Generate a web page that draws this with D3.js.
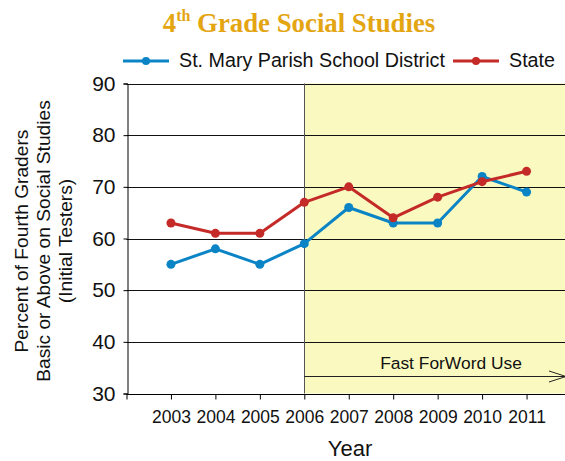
<!DOCTYPE html>
<html><head><meta charset="utf-8">
<script src="https://cdn.jsdelivr.net/npm/d3@7/dist/d3.min.js"></script>
<style>body{margin:0;background:#fff}svg{display:block}</style>
</head><body>
<svg id="c" width="565" height="461"></svg>
<script>
const years = [2003, 2004, 2005, 2006, 2007, 2008, 2009, 2010, 2011];
const district = [55, 58, 55, 59, 66, 63, 63, 72, 69];
const state = [63, 61, 61, 67, 70, 64, 68, 71, 73];
const yTicks = [30, 40, 50, 60, 70, 80, 90];
const seriesNames = ["St. Mary Parish School District", "State"];
const fwStart = 2006;
const fwLabel = "Fast ForWord Use";

const W = 565, H = 461;
const svg = d3.select("#c");
const font = "'Liberation Sans', Arial, sans-serif";
const blue = "#0B84C6", red = "#C42A27";

const x = d3.scaleLinear().domain([2002, 2012]).range([126.5, 571]);
const y = d3.scaleLinear().domain([30, 90]).range([393.5, 83.5]);
const left = x(2002), right = W;

// shaded region
svg.append("rect").attr("x", x(fwStart)).attr("y", y(90))
  .attr("width", right - x(fwStart)).attr("height", y(30) - y(90))
  .attr("fill", "#FAFAC0");

// gridlines
svg.append("g").selectAll("line").data(yTicks.filter(d => d > 30)).join("line")
  .attr("x1", left).attr("x2", right)
  .attr("y1", d => Math.round(y(d)) + 0.5).attr("y2", d => Math.round(y(d)) + 0.5)
  .attr("stroke", "#111").attr("stroke-width", 1);

// vertical line at start of shading
svg.append("line").attr("x1", Math.round(x(fwStart)) + 0.5).attr("x2", Math.round(x(fwStart)) + 0.5)
  .attr("y1", y(90)).attr("y2", y(30)).attr("stroke", "#555").attr("stroke-width", 1);

// y axis
const yAxis = d3.axisLeft(y).tickValues(yTicks).tickSize(4).tickPadding(8).tickFormat(d3.format("d"));
const gy = svg.append("g").attr("transform", `translate(${Math.round(left) + 0.5},0)`).call(yAxis);
gy.select(".domain").attr("stroke", "#000");
gy.selectAll(".tick line").attr("stroke", "#000");
gy.selectAll(".tick text").attr("font-family", font).attr("font-size", 21).attr("fill", "#111");

// x axis
const xAxis = d3.axisBottom(x).tickValues([2002].concat(years)).tickSize(5).tickPadding(11)
  .tickFormat(d => d === 2002 ? "" : String(d));
const gx = svg.append("g").attr("transform", `translate(0,${Math.round(y(30)) + 0.5})`).call(xAxis);
gx.select(".domain").attr("stroke", "#000").attr("d", `M${left},0H${right + 10}`);
gx.selectAll(".tick line").attr("stroke", "#000");
gx.selectAll(".tick text").attr("font-family", font).attr("font-size", 17.5).attr("fill", "#111");

// arrow
const ay = 376.5;
svg.append("line").attr("x1", x(fwStart)).attr("x2", right + 2).attr("y1", ay).attr("y2", ay)
  .attr("stroke", "#222").attr("stroke-width", 1);
svg.append("path").attr("d", `M549,${ay - 5.5}L566,${ay}L549,${ay + 5.5}`)
  .attr("fill", "none").attr("stroke", "#222").attr("stroke-width", 1);
svg.append("text").attr("x", 451).attr("y", 369).attr("text-anchor", "middle")
  .attr("font-family", font).attr("font-size", 17.4).attr("fill", "#111").text(fwLabel);

// lines
const line = d3.line().x((d, i) => x(years[i])).y(d => y(d));
[[district, blue], [state, red]].forEach(([data, col]) => {
  svg.append("path").datum(data).attr("d", line).attr("fill", "none")
    .attr("stroke", col).attr("stroke-width", 3).attr("stroke-linejoin", "round");
  svg.append("g").selectAll("circle").data(data).join("circle")
    .attr("cx", (d, i) => x(years[i])).attr("cy", d => y(d)).attr("r", 4.5).attr("fill", col);
});

// title
const t = svg.append("text").attr("x", 299).attr("y", 32).attr("text-anchor", "middle")
  .attr("font-family", "'Liberation Serif', 'Times New Roman', serif").attr("font-weight", "bold")
  .attr("font-size", 26.8).attr("fill", "#E4A512");
t.append("tspan").text("4");
t.append("tspan").attr("font-size", 16).attr("dy", -11).text("th");
t.append("tspan").attr("dy", 11).text(" Grade Social Studies");

// legend
const leg = [{name: seriesNames[0], col: blue, x0: 123, tx: 179}, {name: seriesNames[1], col: red, x0: 453, tx: 509}];
leg.forEach(l => {
  svg.append("line").attr("x1", l.x0).attr("x2", l.x0 + 46).attr("y1", 61).attr("y2", 61)
    .attr("stroke", l.col).attr("stroke-width", 3);
  svg.append("circle").attr("cx", l.x0 + 23).attr("cy", 61).attr("r", 4).attr("fill", l.col);
  svg.append("text").attr("x", l.tx).attr("y", 67).attr("font-family", font).attr("font-size", 19.7)
    .attr("fill", "#111").text(l.name);
});

// y title
const yt = svg.append("text").attr("transform", "translate(0,241) rotate(-90)")
  .attr("text-anchor", "middle").attr("font-family", font).attr("font-size", 19.2).attr("fill", "#111");
["Percent of Fourth Graders", "Basic or Above on Social Studies", "(Initial Testers)"].forEach((s, i) => {
  yt.append("tspan").attr("x", 0).attr("y", 28 + i * 22).text(s);
});

// x title
svg.append("text").attr("x", 350).attr("y", 456).attr("text-anchor", "middle")
  .attr("font-family", font).attr("font-size", 22).attr("fill", "#111").text("Year");
</script>
</body></html>
